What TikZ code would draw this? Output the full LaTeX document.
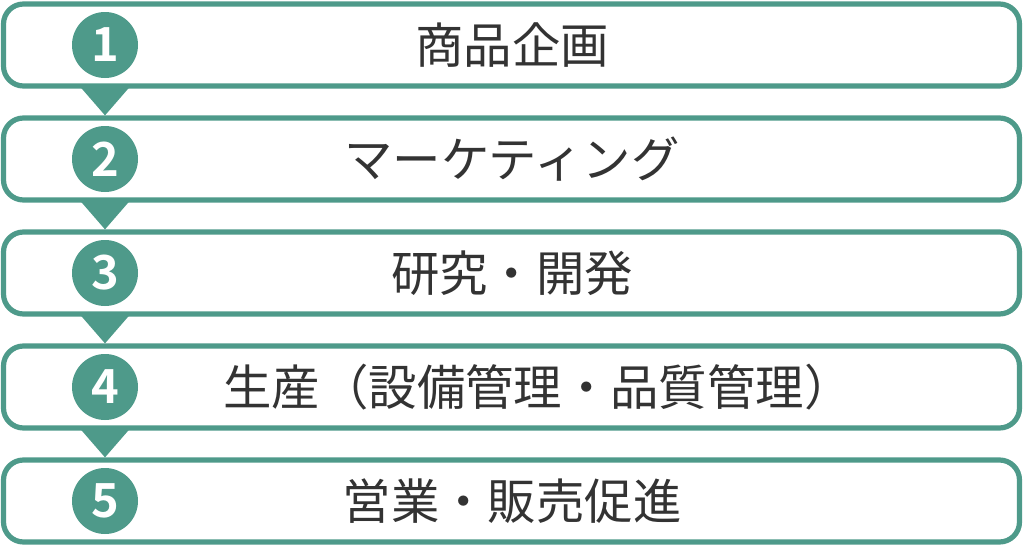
\documentclass[tikz,border=0pt]{standalone}
\usepackage{fontspec}
\setmainfont{Noto Sans}
\newfontfamily\cjk{Noto Sans CJK JP}
\newfontfamily\numfont[BoldFont=* Bold]{Noto Sans CJK JP}
\definecolor{teal1}{HTML}{4E9A8A}
\definecolor{txt}{HTML}{333333}
\begin{document}
\begin{tikzpicture}[x=0.5pt,y=-0.5pt,
  stepbox/.style={draw=teal1,line width=2.6pt,rounded corners=10pt,fill=white,minimum width=508pt,minimum height=41pt,inner sep=0pt},
  numdot/.style={circle,fill=teal1,minimum size=33pt,inner sep=0pt,text=white,font=\numfont\bfseries\fontsize{23.5}{23.5}\selectfont},
  label/.style={text=txt,font=\cjk\fontsize{24.2}{26}\selectfont},
  arrowtri/.style={fill=teal1}]
\useasboundingbox (0,0) rectangle (1024,546);
\foreach \i/\t/\x in {1/商品企画/512,2/マーケティング/512,3/研究・開発/512,4/生産（設備管理・品質管理）/538,5/営業・販売促進/512}{
  \pgfmathsetmacro{\cy}{45+(\i-1)*114}
  \node[stepbox] (b\i) at (511.5,\cy) {};
  \node[label] (t\i) at (\x,\cy) {\t};
  \node[numdot] (n\i) at (105,\cy) {\i};
}
\foreach \i [evaluate=\i as \j using int(\i+1)] in {1,2,3,4}{
  \coordinate (tl\i) at ([xshift=-12.5pt]b\i.south -| n\i);
  \coordinate (tr\i) at ([xshift=12.5pt]b\i.south -| n\i);
  \coordinate (tp\i) at (b\j.north -| n\i);
  \fill[arrowtri] ([yshift=1pt]tl\i) -- ([yshift=1pt]tr\i) -- (tp\i) -- cycle;
}
\end{tikzpicture}
\end{document}
